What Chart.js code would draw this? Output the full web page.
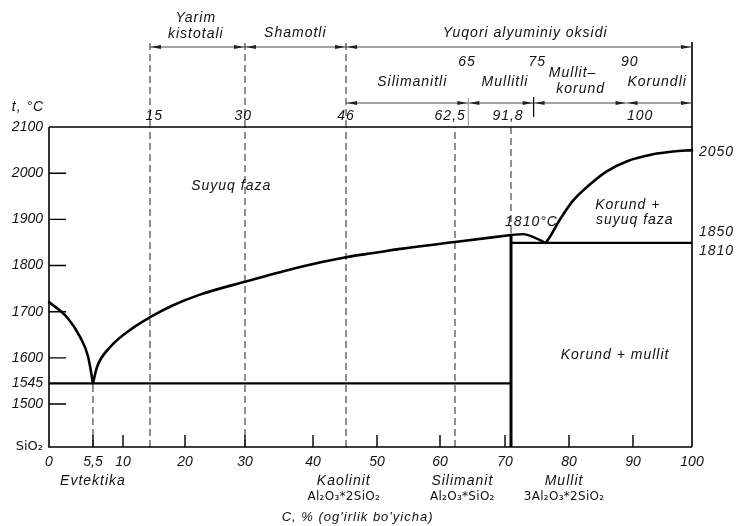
<!DOCTYPE html>
<html><head><meta charset="utf-8">
<script src="https://cdn.jsdelivr.net/npm/chart.js@4.4.1/dist/chart.umd.min.js"></script>
<style>html,body{margin:0;padding:0;background:#fff}canvas{display:block}</style>
</head><body>
<canvas id="c" width="737" height="526"></canvas>
<script>
// ================= DATA =================
const xTickValues = [0, 5.5, 10, 20, 30, 40, 50, 60, 70, 80, 90, 100];
const yTickValues = [1407, 1500, 1545, 1600, 1700, 1800, 1900, 2000, 2100];
const yMin = 1407, yMax = 2100;

// liquidus curves (C, % Al2O3 by weight ; t, °C)
const silicaLiquidusC   = [0, 2.25, 3.9, 4.9, 5.5];
const silicaLiquidusT   = [1721, 1688, 1645, 1602, 1545];
const mulliteLiquidusC  = [5.5, 6.1, 8.05, 11.85, 15, 18.3, 22.5, 30, 38.1, 46, 49.5, 53.7, 62.5, 71.8];
const mulliteLiquidusT  = [1545, 1580, 1623, 1665, 1688, 1714, 1737, 1765, 1797, 1818, 1827, 1836, 1851, 1866];
const mulliteMeltC      = [71.8, 73.5, 74.9, 75.9, 76.7];
const mulliteMeltT      = [1866, 1868, 1862, 1855, 1849];
const corundumLiquidusC = [76.7, 77.3, 78.7, 80.6, 83.3, 85.9, 89.1, 93.4, 96.8, 100];
const corundumLiquidusT = [1849, 1862, 1899, 1940, 1976, 2004, 2026, 2041, 2047, 2050];

const eutecticC = 5.5, eutecticT = 1545;
const mulliteC = 71.8, mulliteTopT = 1866;
const mulliteCorundumT = 1849;
const boundaryC = [15, 30, 46, 62.5];          // dashed composition boundaries
const extendedBoundaryC = [15, 30, 46];         // continue above the plot

// classification bands above the plot
const row1Bounds = [15, 30, 46, 100];
const row1Labels = [["Yarim", "kistotali"], ["Shamotli"], ["Yuqori alyuminiy oksidi"]];
const row1LabelC = [21.8, 37.4, 73.8];
const row2Bounds = [46, 64.5, 75, 89, 100];
const row2Labels = [["Silimanitli"], ["Mullitli"], ["Mullit–", "korund"], ["Korundli"]];
const row2LabelC = [55.6, 70, 81.5, 94.1];
const upperNumbers = ["65", "75", "90"];
const upperNumberC = [64.3, 75.5, 89.5];
const lowerNumbers = ["15", "30", "46", "62,5", "91,8", "100"];
const lowerNumberC = [15.6, 29.7, 46, 61.7, 70.9, 91.2];

// field / point labels
const fieldLabels = [
  {t: "Suyuq faza", c: 27.7, T: 1972},
  {t: "Korund + mullit", c: 87.2, T: 1606},
  {t: "Korund +", c: 89.2, T: 1931},
  {t: "suyuq faza", c: 90.3, T: 1899},
  {t: "1810°C", c: 74.7, T: 1894}
];
const rightLabels = [{t: "2050", T: 2045}, {t: "1850", T: 1873}, {t: "1810", T: 1831}];
const compoundLabels = [
  {name: "Evtektika", formula: "", c: 5.5},
  {name: "Kaolinit", formula: "Al₂O₃*2SiO₂", c: 45.6},
  {name: "Silimanit", formula: "Al₂O₃*SiO₂", c: 63.6},
  {name: "Mullit", formula: "3Al₂O₃*2SiO₂", c: 79.3}
];

// ================= SCALE =================
// The printed composition axis is not uniformly spaced; calibrate it piecewise.
const xKnotValue = [0, 5.5, 10, 15, 20, 30, 40, 46, 50, 60, 62.5, 70, 71.8, 80, 90, 100];
const xKnotFrac  = [0, .0684, .1151, .1571, .2115, .3048, .4106, .4619, .5101, .6081, .6314, .7092, .7185, .8087, .9082, 1];
function interp(v, xs, ys) {
  if (v <= xs[0]) return ys[0] + (v - xs[0]) * (ys[1] - ys[0]) / (xs[1] - xs[0]);
  for (let i = 1; i < xs.length; i++) {
    if (v <= xs[i]) return ys[i-1] + (v - xs[i-1]) * (ys[i] - ys[i-1]) / (xs[i] - xs[i-1]);
  }
  const n = xs.length - 1;
  return ys[n] + (v - xs[n]) * (ys[n] - ys[n-1]) / (xs[n] - xs[n-1]);
}
class WarpedLinearScale extends Chart.LinearScale {
  getPixelForValue(v) {
    if (v === null || v === undefined || isNaN(v)) return NaN;
    return this.getPixelForDecimal(interp(v, xKnotValue, xKnotFrac));
  }
  getValueForPixel(p) { return interp(this.getDecimalForPixel(p), xKnotFrac, xKnotValue); }
}
WarpedLinearScale.id = 'warpedLinear';
WarpedLinearScale.defaults = Chart.LinearScale.defaults;
Chart.register(WarpedLinearScale);

// ================= HELPERS =================
const pts = (cs, ts) => cs.map((c, i) => ({x: c, y: ts[i]}));
const INK = '#111';
const ITF = '"Liberation Sans", "DejaVu Sans", sans-serif';
const curve = (data, w) => ({data, showLine: true, borderColor: '#000', borderWidth: w, pointRadius: 0,
  cubicInterpolationMode: 'monotone', borderCapStyle: 'round', borderJoinStyle: 'round', clip: false});
const straight = (data, w, dash) => ({data, showLine: true, borderColor: dash ? '#222' : '#000', borderWidth: w,
  pointRadius: 0, tension: 0, borderDash: dash || [], borderCapStyle: 'butt', clip: false});

const datasets = [
  curve(pts(silicaLiquidusC, silicaLiquidusT), 2.6),
  curve(pts(mulliteLiquidusC, mulliteLiquidusT), 2.6),
  curve(pts(mulliteMeltC, mulliteMeltT), 2.4),
  curve(pts(corundumLiquidusC, corundumLiquidusT), 2.6),
  straight([{x: 0, y: eutecticT}, {x: mulliteC, y: eutecticT}], 2.2),
  straight([{x: mulliteC, y: mulliteCorundumT}, {x: 100, y: mulliteCorundumT}], 2.2),
  straight([{x: mulliteC, y: yMin}, {x: mulliteC, y: mulliteTopT}], 3),
  straight([{x: eutecticC, y: yMin}, {x: eutecticC, y: eutecticT}], 1, [7, 4]),
  straight([{x: mulliteC, y: yMax}, {x: mulliteC, y: mulliteTopT}], 1, [7, 4]),
  ...boundaryC.map(c => straight([{x: c, y: yMin}, {x: c, y: yMax}], 1, [7, 4]))
];

function text(ctx, s, x, y, font, align, spacing) {
  ctx.save();
  ctx.font = font; ctx.fillStyle = INK;
  ctx.textAlign = align || 'center'; ctx.textBaseline = 'middle';
  ctx.letterSpacing = (spacing === undefined ? 1 : spacing) + 'px';
  ctx.fillText(s, x, y);
  ctx.restore();
}
function arrowHead(ctx, tipX, y, dir) {
  ctx.beginPath();
  ctx.moveTo(tipX, y);
  ctx.lineTo(tipX + dir * 10, y - 2);
  ctx.lineTo(tipX + dir * 10, y + 2);
  ctx.closePath(); ctx.fill();
}
function dimLine(ctx, x1, x2, y) {
  ctx.beginPath(); ctx.moveTo(x1, y); ctx.lineTo(x2, y); ctx.stroke();
  arrowHead(ctx, x1 + 1, y, 1);
  arrowHead(ctx, x2 - 1, y, -1);
}

const decor = {
  id: 'decor',
  afterDatasetsDraw(chart) {
    const ctx = chart.ctx, xs = chart.scales.x, ys = chart.scales.y, a = chart.chartArea;
    const X = v => xs.getPixelForValue(v), Y = v => ys.getPixelForValue(v);
    ctx.save();
    // frame
    ctx.strokeStyle = '#000'; ctx.lineWidth = 1.6;
    ctx.beginPath();
    ctx.moveTo(a.left, a.top); ctx.lineTo(a.left, a.bottom); ctx.lineTo(a.right, a.bottom);
    ctx.moveTo(a.left, a.top); ctx.lineTo(a.right, a.top);
    ctx.moveTo(a.right, a.bottom); ctx.lineTo(a.right, a.top - 85);
    ctx.stroke();
    // inner tick marks
    ctx.lineWidth = 1.4;
    ctx.beginPath();
    yTickValues.forEach(v => { if (v !== yMin && v !== yMax && v !== eutecticT) { ctx.moveTo(a.left, Y(v)); ctx.lineTo(a.left + 17, Y(v)); } });
    xTickValues.forEach(v => { if (v > 0 && v < 100) { ctx.moveTo(X(v), a.bottom); ctx.lineTo(X(v), a.bottom - 12); } });
    ctx.stroke();
    // dashed extension lines above plot
    ctx.strokeStyle = '#222'; ctx.lineWidth = 1; ctx.setLineDash([7, 4]);
    ctx.beginPath();
    extendedBoundaryC.forEach(c => { ctx.moveTo(X(c), a.top); ctx.lineTo(X(c), a.top - 87); });
    ctx.stroke();
    ctx.setLineDash([]);
    // dimension rows
    ctx.strokeStyle = '#333'; ctx.fillStyle = '#222'; ctx.lineWidth = 0.9;
    const r1 = a.top - 80, r2 = a.top - 24;
    for (let i = 0; i < row1Bounds.length - 1; i++) dimLine(ctx, X(row1Bounds[i]), X(row1Bounds[i+1]), r1);
    for (let i = 0; i < row2Bounds.length - 1; i++) dimLine(ctx, X(row2Bounds[i]), X(row2Bounds[i+1]), r2);
    ctx.strokeStyle = '#777'; ctx.lineWidth = 0.8;
    ctx.beginPath(); ctx.moveTo(X(row2Bounds[1]), r2 - 5); ctx.lineTo(X(row2Bounds[1]), a.top); ctx.stroke();
    ctx.strokeStyle = '#000'; ctx.lineWidth = 1.2;
    ctx.beginPath(); ctx.moveTo(X(row2Bounds[2]), r2 - 6); ctx.lineTo(X(row2Bounds[2]), r2 + 14); ctx.stroke();

    const F = ITF, it14 = 'italic 14px ' + F, it13 = 'italic 13px ' + F;
    // row labels
    row1Labels.forEach((ls, i) => {
      if (ls.length === 2) { text(ctx, ls[0], X(row1LabelC[i]), r1 - 29, it14); text(ctx, ls[1], X(row1LabelC[i]), r1 - 13, it14); }
      else text(ctx, ls[0], X(row1LabelC[i]), r1 - 14, it14);
    });
    row2Labels.forEach((ls, i) => {
      if (ls.length === 2) { text(ctx, ls[0], X(row2LabelC[i]) - 6, r2 - 30, it14); text(ctx, ls[1], X(row2LabelC[i]) + 2, r2 - 14, it14); }
      else text(ctx, ls[0], X(row2LabelC[i]), r2 - 21, it14);
    });
    upperNumbers.forEach((s, i) => text(ctx, s, X(upperNumberC[i]), r2 - 41, it14));
    lowerNumbers.forEach((s, i) => text(ctx, s, X(lowerNumberC[i]), a.top - 11, it14));
    text(ctx, 't, °C', a.left - 21, a.top - 20, it14, 'center');
    // field labels
    fieldLabels.forEach(l => text(ctx, l.t, X(l.c), Y(l.T), it14));
    rightLabels.forEach(l => text(ctx, l.t, a.right + 7, Y(l.T), it14, 'left'));
    // compounds under the axis
    compoundLabels.forEach(l => {
      text(ctx, l.name, X(l.c), a.bottom + 34, it14);
      if (l.formula) text(ctx, l.formula, X(l.c), a.bottom + 50, '12px "DejaVu Sans", sans-serif', 'center', 0.3);
    });
    text(ctx, "C, % (og'irlik bo'yicha)", X(47.5), a.bottom + 70, it13);
    ctx.restore();
  }
};

new Chart(document.getElementById('c'), {
  type: 'scatter',
  data: {datasets},
  options: {
    responsive: false, animation: false,
    layout: {padding: {top: 127, right: 45, left: 0, bottom: 0}},
    plugins: {legend: {display: false}, tooltip: {enabled: false}},
    scales: {
      x: {
        type: 'warpedLinear', min: 0, max: 100,
        afterBuildTicks: s => { s.ticks = xTickValues.map(v => ({value: v})); },
        afterFit: s => { s.height = 79; },
        grid: {display: false, drawTicks: false}, border: {display: false},
        ticks: {autoSkip: false, maxRotation: 0, padding: 7, color: INK,
          font: {family: ITF, size: 14, style: 'italic'},
          callback: v => String(v).replace('.', ',')}
      },
      y: {
        min: yMin, max: yMax,
        afterBuildTicks: s => { s.ticks = yTickValues.map(v => ({value: v})); },
        afterFit: s => { s.width = 49; },
        grid: {display: false, drawTicks: false}, border: {display: false},
        ticks: {autoSkip: false, padding: 6, color: INK,
          font: c => (c.tick && c.tick.value === yMin) ? {family: '"DejaVu Sans", sans-serif', size: 13, style: 'normal'}
                                                       : {family: ITF, size: 14, style: 'italic'},
          callback: v => v === yMin ? 'SiO₂' : String(v)}
      }
    }
  },
  plugins: [decor]
});
</script>
</body></html>
